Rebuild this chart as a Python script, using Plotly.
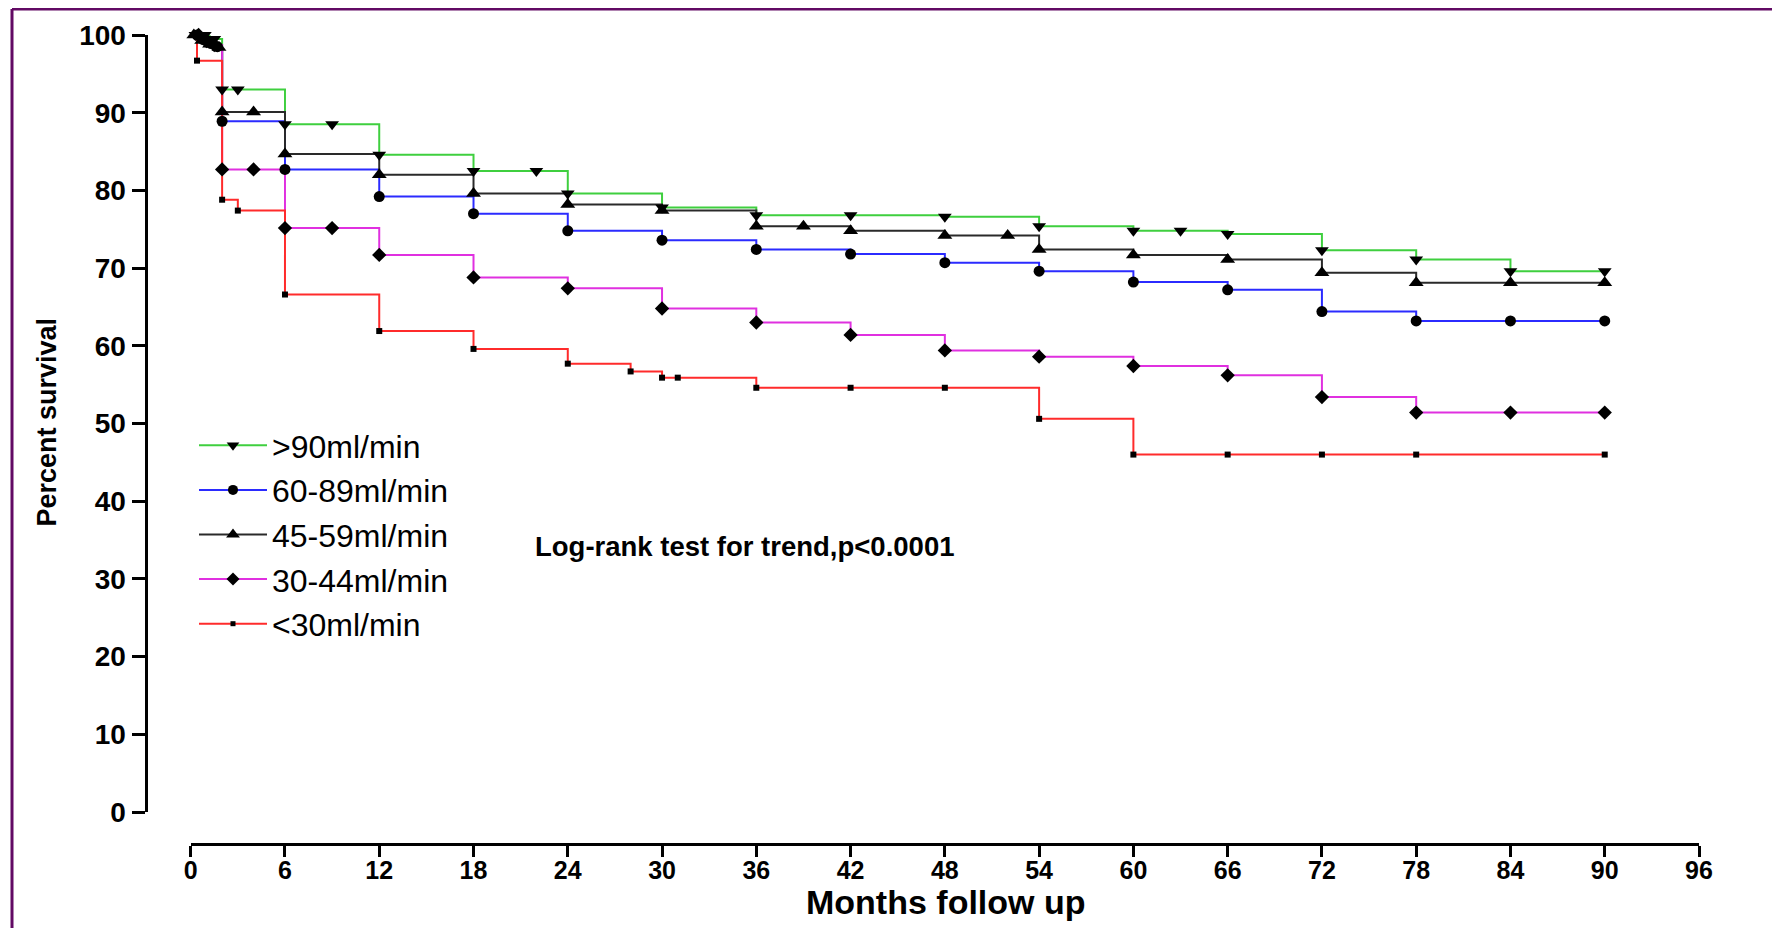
import numpy as np
import plotly.graph_objects as go

# ---------------- data ----------------
series_names = [">90ml/min", "60-89ml/min", "45-59ml/min", "30-44ml/min", "<30ml/min"]

g90_times = [0, 1.2, 2, 6, 12, 18, 24, 30, 36, 48, 54, 60, 66, 72, 78, 84]
g90_surv = [100, 99.5, 93.0, 88.5, 84.6, 82.5, 79.6, 77.8, 76.8, 76.6, 75.4, 74.8, 74.4, 72.3, 71.1, 69.6]
g90_cens = [0.3, 0.9, 1.5, 2, 3, 6, 9, 12, 18, 22, 24, 30, 36, 42, 48, 54, 60, 63, 66, 72, 78, 84, 90]

g60_times = [0, 0.5, 1.0, 1.5, 2, 6, 12, 18, 24, 30, 36, 42, 48, 54, 60, 66, 72, 78]
g60_surv = [100, 99.4, 98.9, 98.5, 88.9, 82.7, 79.2, 77.0, 74.8, 73.6, 72.4, 71.8, 70.7, 69.6, 68.2, 67.2, 64.4, 63.2]
g60_cens = [0.4, 0.8, 1.3, 1.7, 2, 6, 12, 18, 24, 30, 36, 42, 48, 54, 60, 66, 72, 78, 84, 90]

g45_times = [0, 0.4, 1.0, 1.6, 2, 6, 12, 18, 24, 30, 36, 42, 48, 54, 60, 66, 72, 78]
g45_surv = [100, 99.3, 98.8, 98.4, 90.1, 84.7, 82.0, 79.6, 78.2, 77.4, 75.4, 74.8, 74.2, 72.4, 71.7, 71.1, 69.4, 68.1]
g45_cens = [0.2, 0.7, 1.2, 1.8, 2, 4, 6, 12, 18, 24, 30, 36, 39, 42, 48, 52, 54, 60, 66, 72, 78, 84, 90]

g30_times = [0, 0.6, 1.2, 2, 6, 12, 18, 24, 30, 36, 42, 48, 54, 60, 66, 72, 78]
g30_surv = [100, 99.2, 98.7, 82.7, 75.15, 71.7, 68.8, 67.4, 64.8, 63.0, 61.4, 59.4, 58.6, 57.4, 56.2, 53.4, 51.4]
g30_cens = [0.5, 1.0, 1.5, 2, 4, 6, 9, 12, 18, 24, 30, 36, 42, 48, 54, 60, 66, 72, 78, 84, 90]

g0_times = [0, 0.4, 2, 3, 6, 12, 18, 24, 28, 30, 36, 54, 60]
g0_surv = [100, 96.7, 78.8, 77.4, 66.6, 61.9, 59.6, 57.7, 56.7, 55.9, 54.6, 50.6, 46.0]
g0_cens = [0.4, 2, 3, 6, 12, 18, 24, 28, 30, 31, 36, 42, 48, 54, 60, 66, 72, 78, 90]

follow_end = 90
x_ticks = list(range(0, 97, 6))
y_ticks = list(range(0, 101, 10))

# ---------------- styles ----------------
colors = ["#3fcf3f", "#2b2bff", "#2a2a2a", "#e030e0", "#ff2b2b"]
symbols = ["triangle-down", "circle", "triangle-up", "diamond", "square"]
msizes = [12, 11, 13, 11, 6]

series = [
    (g90_times, g90_surv, g90_cens),
    (g60_times, g60_surv, g60_cens),
    (g45_times, g45_surv, g45_cens),
    (g30_times, g30_surv, g30_cens),
    (g0_times, g0_surv, g0_cens),
]

OFF = 8  # page body margin
W, H = 1780 - OFF, 928 - OFF
# pixel layout (page coordinates, converted to figure coordinates)
x0_px, x96_px = 190.7 - OFF, 1699.0 - OFF
y100_px, y0_px = 35.0 - OFF, 812.0 - OFF
yaxis_px = 145.5 - OFF
xaxis_px = 843.5 - OFF

FONT = "Liberation Sans, Arial, sans-serif"

fig = go.Figure()

for i, (t, s, c) in enumerate(series):
    xs = list(t) + [follow_end]
    ys = list(s) + [s[-1]]
    fig.add_trace(go.Scatter(
        x=xs, y=ys, mode="lines", line=dict(color=colors[i], width=2, shape="hv"),
        showlegend=False, hoverinfo="skip", cliponaxis=False,
    ))
for i, (t, s, c) in enumerate(series):
    idx = np.searchsorted(np.array(t), np.array(c), side="right") - 1
    cy = np.array(s)[idx]
    fig.add_trace(go.Scatter(
        x=c, y=cy, mode="markers",
        marker=dict(symbol=symbols[i], size=msizes[i], color="black", line=dict(width=0)),
        showlegend=False, cliponaxis=False,
    ))
# legend entries
for i, name in enumerate(series_names):
    fig.add_trace(go.Scatter(
        x=[None], y=[None], mode="lines+markers", name=name, legendgroup=name,
        line=dict(color=colors[i], width=2),
        marker=dict(symbol=symbols[i], size=msizes[i] - 1, color="black"),
    ))

fig.update_layout(
    width=W, height=H,
    margin=dict(l=0, r=0, t=0, b=0),
    paper_bgcolor="white", plot_bgcolor="white",
    font=dict(family=FONT, color="black"),
    xaxis=dict(
        domain=[x0_px / W, x96_px / W], range=[0, 96],
        anchor="free", position=1 - xaxis_px / H,
        tickvals=x_ticks, ticktext=[str(v) for v in x_ticks],
        ticks="outside", ticklen=11, tickwidth=3, tickcolor="black",
        showline=True, linewidth=3, linecolor="black",
        showgrid=False, zeroline=False, automargin=False,
        ticklabelstandoff=-8,
        tickfont=dict(size=25, weight="bold", family=FONT),
    ),
    yaxis=dict(
        domain=[1 - y0_px / H, 1 - y100_px / H], range=[0, 100],
        anchor="free", position=yaxis_px / W,
        tickvals=y_ticks, ticktext=[str(v) for v in y_ticks],
        ticks="outside", ticklen=13, tickwidth=3, tickcolor="black",
        showline=True, linewidth=3, linecolor="black",
        showgrid=False, zeroline=False, automargin=False,
        tickfont=dict(size=28, weight="bold", family=FONT),
    ),
    legend=dict(
        x=(194 - OFF) / W, y=1 - (418 - OFF) / H, xanchor="left", yanchor="top",
        font=dict(size=32, family=FONT),
        itemwidth=68, tracegroupgap=0, bgcolor="rgba(0,0,0,0)",
    ),
    showlegend=True,
)

fig.add_annotation(
    text="Log-rank test for trend,p<0.0001", xref="paper", yref="paper",
    x=(744.5 - OFF) / W, y=1 - (546 - OFF) / H, xanchor="center", yanchor="middle", showarrow=False,
    font=dict(size=27.5, weight="bold", family=FONT),
)
fig.add_annotation(
    text="Months follow up", xref="paper", yref="paper",
    x=(946 - OFF) / W, y=1 - (902 - OFF) / H, xanchor="center", yanchor="middle", showarrow=False,
    font=dict(size=34, weight="bold", family=FONT),
)
fig.add_annotation(
    text="Percent survival", xref="paper", yref="paper", textangle=-90,
    x=(46.5 - OFF) / W, y=1 - (422 - OFF) / H, xanchor="center", yanchor="middle", showarrow=False,
    font=dict(size=27, weight="bold", family=FONT),
)

# purple frame (top and left edges)
FRAME = "#620a64"
fig.add_shape(type="line", xref="paper", yref="paper", x0=4 / W, x1=1, y0=1 - 1 / H, y1=1 - 1 / H,
              line=dict(color=FRAME, width=3))
fig.add_shape(type="line", xref="paper", yref="paper", x0=4 / W, x1=4 / W, y0=0, y1=1 - 1 / H,
              line=dict(color=FRAME, width=3))

fig.write_html("out.html")
